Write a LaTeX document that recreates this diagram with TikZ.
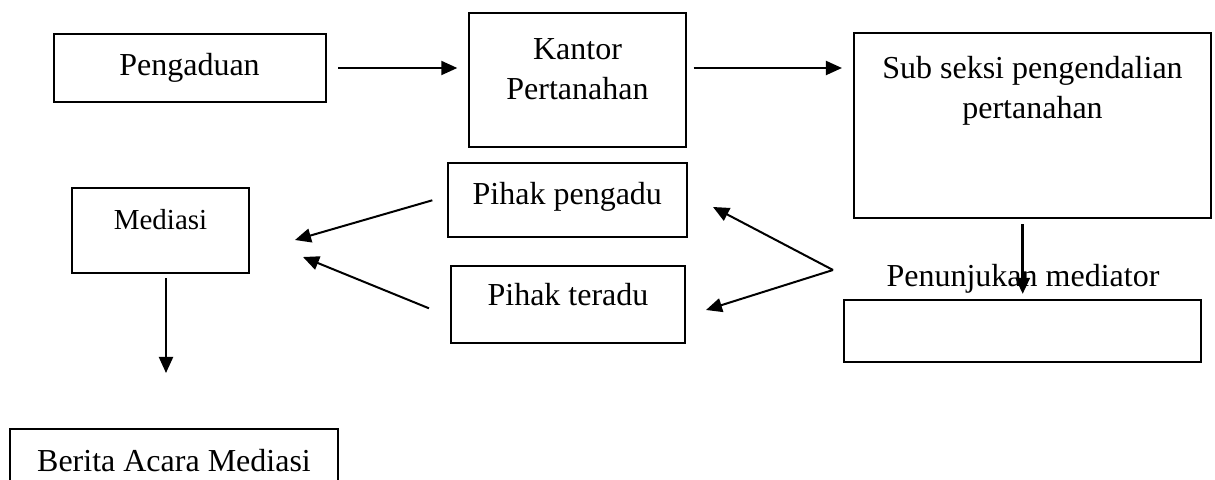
\documentclass[tikz,border=0pt]{standalone}
\usepackage{fontspec}
\setmainfont{Liberation Serif}
\usetikzlibrary{arrows.meta,calc}

\tikzset{
  box/.style={draw, line width=1pt, inner sep=0pt},
  txt/.style={font=\fontsize{16}{20}\selectfont, inner sep=0pt, align=center, anchor=base},
  arr/.style={line width=1pt, -{Triangle[length=8pt,width=7pt]}}
}

\begin{document}
\begin{tikzpicture}[x=0.5pt, y=-0.5pt]
  \useasboundingbox (0,0) rectangle (1215,480);

  \node[box, minimum width=136pt, minimum height=34pt, font=\fontsize{16}{20}\selectfont] (peng) at (189.5,68) {Pengaduan};
  \node[box, minimum width=108.2pt, minimum height=66.7pt] (kantor) at (577.5,80) {};
  \node[box, minimum width=178.75pt, minimum height=92.75pt] (subseksi) at (1032.7,125.7) {};
  \node[box, minimum width=119.2pt, minimum height=37pt] (pengadu) at (567.5,200.3) {};
  \node[box, minimum width=117.25pt, minimum height=38.35pt] (teradu) at (568.2,304.3) {};
  \node[box, minimum width=88.8pt, minimum height=42.5pt] (mediasi) at (160.5,230.8) {};
  \node[box, minimum width=164pt, minimum height=45pt] (berita) at (174,474) {};
  \node[box, minimum width=178.75pt, minimum height=30.85pt] (penbox) at (1022.7,330.8) {};

  \node[txt] (kantor-t) at (577.5,99.5) {Kantor\\Pertanahan};
  \node[txt] (subseksi-t) at (1032.5,119) {Sub seksi pengendalian\\pertanahan};
  \node[txt] (pengadu-t) at (567.3,205) {Pihak pengadu};
  \node[txt] (teradu-t) at (568,306) {Pihak teradu};
  \node[txt, font=\fontsize{14.5}{18}\selectfont] (mediasi-t) at (160.5,230) {Mediasi};
  \node[txt] (berita-t) at (174,471.7) {Berita Acara Mediasi};
  \node[txt] (penbox-t) at (1023,286.7) {Penunjukan mediator};

  \coordinate (fork) at (833,270);
  \coordinate (tipP) at (713,207);
  \coordinate (tipT) at (706,310);
  \coordinate (inP) at (295,240);
  \coordinate (inT) at (303,257);
  \coordinate (outM) at (166,373);

  \draw[arr, shorten <=5.75pt, shorten >=5.5pt] (peng.east) -- (peng.east -| kantor.west);
  \draw[arr, shorten <=3.5pt, shorten >=5.5pt] (kantor.east |- peng.east) -- (subseksi.west |- peng.east);
  \draw[arr, line width=1.5pt, shorten <=2.5pt, shorten >=2.5pt] (subseksi.south -| penbox.north) -- (penbox.north);
  \draw[arr] (fork) -- (tipP);
  \draw[arr] (fork) -- (tipT);
  \draw[arr] ($(pengadu.west)+(-15,0)$) -- (inP);
  \draw[arr] ($(teradu.west)+(-21,4)$) -- (inT);
  \draw[arr, shorten <=2pt] (mediasi.south -| outM) -- (outM);
\end{tikzpicture}
\end{document}
